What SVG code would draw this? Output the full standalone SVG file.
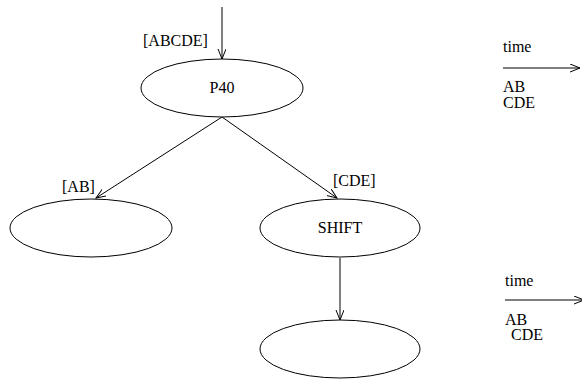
<svg xmlns="http://www.w3.org/2000/svg" width="582" height="389" viewBox="0 0 582 389" font-family="Liberation Serif, DejaVu Serif, serif" font-size="16">
  <style>
    text { font-family: "Liberation Serif", "DejaVu Serif", serif; font-size: 16px; fill: #000; }
    .node { fill: #fff; stroke: #000; stroke-width: 1; }
    .edge { fill: none; stroke: #000; stroke-width: 1; marker-end: url(#arrow); }
    .mid { text-anchor: middle; }
  </style>
  <defs>
    <marker id="arrow" markerWidth="12" markerHeight="10" refX="10" refY="4" orient="auto" markerUnits="userSpaceOnUse">
      <path d="M0,0 L10,4 L0,8" fill="none" stroke="#000" stroke-width="1"/>
    </marker>
  </defs>

  <g id="connectors">
    <line class="edge" x1="222" y1="7" x2="222" y2="59"/>
    <line class="edge" x1="222" y1="117" x2="96" y2="198"/>
    <line class="edge" x1="222" y1="117" x2="337" y2="198"/>
    <line class="edge" x1="340" y1="258" x2="340" y2="320"/>
    <text x="143" y="46">[ABCDE]</text>
    <text x="62" y="192">[AB]</text>
    <text x="333" y="186">[CDE]</text>
  </g>

  <g id="p40">
    <ellipse class="node" cx="222" cy="88" rx="81" ry="29"/>
    <text class="mid" x="222" y="93">P40</text>
  </g>
  <g id="left-node">
    <ellipse class="node" cx="91" cy="228" rx="81" ry="29"/>
  </g>
  <g id="shift">
    <ellipse class="node" cx="340" cy="228" rx="80" ry="29"/>
    <text class="mid" x="340" y="233">SHIFT</text>
  </g>
  <g id="bottom-node">
    <ellipse class="node" cx="340" cy="349" rx="80" ry="29"/>
  </g>

  <g id="timeline-1">
    <text x="503" y="52">time</text>
    <line class="edge" x1="503" y1="68" x2="580" y2="68"/>
    <text x="503" y="92">AB</text>
    <text x="503" y="108">CDE</text>
  </g>
  <g id="timeline-2">
    <text x="505" y="286">time</text>
    <line class="edge" x1="505" y1="300" x2="584" y2="300"/>
    <text x="505" y="325">AB</text>
    <text x="511" y="340">CDE</text>
  </g>
</svg>
